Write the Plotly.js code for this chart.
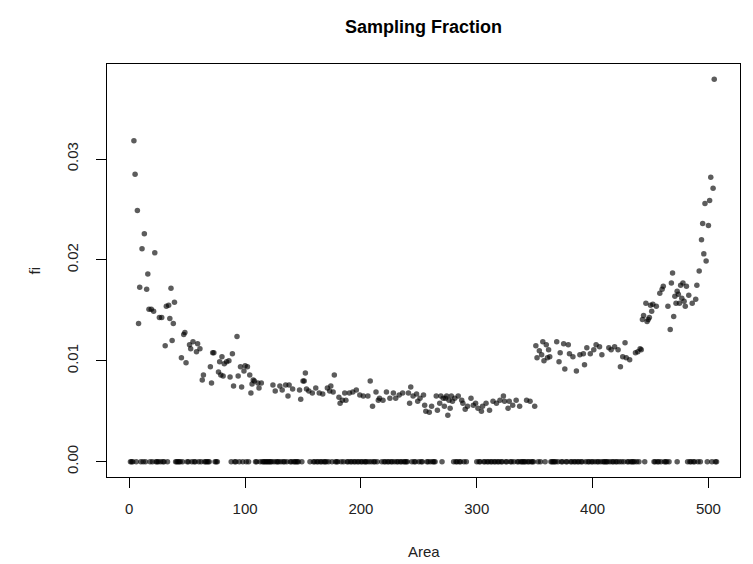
<!DOCTYPE html>
<html>
<head>
<meta charset="utf-8">
<script src="https://cdn.plot.ly/plotly-3.0.1.min.js"></script>
<style>html,body{margin:0;padding:0;background:#fff;}#chart{width:753px;height:564px;}</style>
</head>
<body>
<div id="chart"></div>
<script>
// Sampled areas (non-zero sampling fraction)
const sampledArea = [
4,5,7,13,11,22,16,9,15,36,39,32,34,17,19,21,8,26,28,35,38,48,47,93,37,31,52,55,59,61,58,53,45,49,72,73,80,89,78,82,84,86,70,96,100,102,77,79,81,87,94,64,63,71,99,104,90,97,105,107,106,
108,111,114,112,124,126,130,132,135,138,137,141,147,148,152,150,151,153,155,158,161,164,167,171,173,174,176,177,181,182,184,187,186,190,193,196,199,202,206,208,210,213,216,215,219,222,225,228,230,233,236,243,241,245,242,248,251,254,249,255,256,259,261,265,268,271,272,274,266,275,
269,273,276,278,281,284,287,279,277,288,290,292,295,297,299,301,304,305,308,311,314,317,320,323,324,327,328,331,334,337,343,346,350,
351,354,357,360,362,356,361,363,352,358,369,372,375,379,380,383,371,376,386,393,389,395,392,
398,401,403,406,408,414,416,419,422,428,426,429,432,437,439,442,424,
494,496,498,492,469,468,476,478,481,490,461,460,458,473,474,471,477,483,479,475,472,480,486,489,465,470,467,446,450,452,455,451,449,444,443,447,448,441,
505,502,504,501,497,495,500
];
const sampledFi = [
.0318,.0285,.0249,.0226,.0211,.0207,.0186,.0173,.0171,.0172,.0158,.0154,.0155,.0151,.0151,.0149,.0137,.0143,.0143,.0142,.0137,.0128,.0126,.0124,.0120,.0115,.0116,.0119,.0117,.0112,.0109,.0112,.0103,.0098,.0108,.0108,.0104,.0107,.0099,.0097,.0099,.0100,.0094,.0094,.0095,.0094,.0089,.0086,.0085,.0084,.0085,.0086,.0081,.0078,.0090,.0086,.0075,.0074,.0068,.0081,.0077,
.0080,.0078,.0078,.0073,.0076,.0070,.0075,.0071,.0076,.0076,.0065,.0072,.0071,.0062,.0088,.0080,.0080,.0072,.0070,.0068,.0073,.0068,.0067,.0073,.0070,.0075,.0069,.0086,.0064,.0058,.0061,.0061,.0068,.0068,.0069,.0071,.0066,.0065,.0065,.0080,.0055,.0069,.0063,.0061,.0061,.0069,.0063,.0068,.0063,.0066,.0068,.0074,.0068,.0065,.0058,.0067,.0063,.0066,.0060,.0056,.0050,.0049,.0055,.0065,.0058,.0063,.0055,.0065,.0051,.0046,
.0065,.0063,.0061,.0065,.0063,.0065,.0061,.0060,.0053,.0058,.0052,.0055,.0063,.0056,.0058,.0053,.0050,.0055,.0058,.0051,.0060,.0058,.0061,.0065,.0060,.0053,.0060,.0056,.0061,.0055,.0061,.0060,.0055,
.0115,.0110,.0119,.0116,.0111,.0106,.0103,.0104,.0103,.0100,.0119,.0108,.0117,.0116,.0107,.0104,.0099,.0092,.0090,.0096,.0106,.0113,.0107,
.0107,.0111,.0116,.0114,.0106,.0113,.0111,.0114,.0111,.0118,.0104,.0103,.0101,.0108,.0109,.0111,.0094,
.0220,.0206,.0199,.0189,.0187,.0177,.0175,.0177,.0174,.0175,.0174,.0171,.0167,.0169,.0166,.0164,.0162,.0165,.0159,.0157,.0157,.0154,.0157,.0161,.0154,.0144,.0131,.0157,.0155,.0156,.0154,.0149,.0143,.0145,.0141,.0139,.0141,.0112,
.0379,.0282,.0271,.0259,.0256,.0236,.0234
];
// Non-sampled areas (fi = 0)
const zeroArea = [
1,2,3,6,10,12,14,18,20,23,24,25,27,29,30,33,40,41,42,43,44,46,50,51,54,56,57,60,62,65,66,67,68,69,74,75,76,
88,91,92,95,98,101,103,109,110,113,115,116,117,118,119,120,121,122,123,125,127,128,129,131,133,134,136,139,140,142,143,144,145,146,149,
156,
159,160,162,163,165,166,168,169,170,172,175,178,179,180,183,185,188,189,191,192,194,195,197,198,200,201,203,204,205,207,209,211,212,214,
218,220,221,223,224,226,227,229,231,232,234,235,237,238,239,240,244,246,247,250,252,253,257,258,260,262,263,264,
270,280,282,283,285,286,289,291,
300,302,303,306,307,309,310,312,313,315,316,318,319,321,322,325,326,329,330,332,
335,336,338,339,340,341,342,344,345,347,348,349,353,355,359,
364,365,366,367,368,370,373,374,377,378,381,382,384,385,387,388,390,391,394,396,397,399,400,402,404,405,407,409,410,411,412,413,415,417,418,420,421,423,425,427,430,431,433,434,435,436,438,440,445,453,454,456,457,459,462,463,464,466,
473,
482,484,485,487,488,491,493,499,503,506,507
];
const zeroFi = zeroArea.map(() => 0);

const xTicks = [0, 100, 200, 300, 400, 500];
const yTicks = [0, 0.01, 0.02, 0.03];
const yTickText = ['0.00', '0.01', '0.02', '0.03'];

const allX = sampledArea.concat(zeroArea);
const allY = sampledFi.concat(zeroFi);
const xmin = Math.min(...allX), xmax = Math.max(...allX);
const ymin = Math.min(...allY), ymax = Math.max(...allY);
const xr = [xmin - 0.04 * (xmax - xmin), xmax + 0.04 * (xmax - xmin)];
const yr = [ymin - 0.04 * (ymax - ymin), ymax + 0.04 * (ymax - ymin)];

const FONT = 'Liberation Sans, Arial, sans-serif';
const marker = {size: 5.5, color: 'rgba(0,0,0,0.64)', line: {width: 0}};

const traces = [
  {x: zeroArea, y: zeroFi, type: 'scatter', mode: 'markers', marker: marker, hoverinfo: 'x+y'},
  {x: sampledArea, y: sampledFi, type: 'scatter', mode: 'markers', marker: marker, hoverinfo: 'x+y'}
];

const axisCommon = {
  showgrid: false, zeroline: false, showline: true, mirror: true,
  linecolor: '#000', linewidth: 1, ticks: 'outside', ticklen: 10,
  tickcolor: '#000', tickwidth: 1, tickfont: {family: FONT, size: 15, color: '#222'}
};

const layout = {
  width: 753, height: 564,
  margin: {l: 107, r: 13, t: 64, b: 87, pad: 0},
  paper_bgcolor: '#fff', plot_bgcolor: '#fff',
  showlegend: false,
  font: {family: FONT, color: '#000'},
  title: {text: '<b>Sampling Fraction</b>', x: 0.5, xref: 'paper', xanchor: 'center',
          y: 1 - 27 / 564, yref: 'container', yanchor: 'middle',
          font: {family: FONT, size: 18, color: '#000'}},
  xaxis: Object.assign({}, axisCommon, {range: xr, tickvals: xTicks, ticktext: xTicks.map(String), ticklabelstandoff: 8}),
  yaxis: Object.assign({}, axisCommon, {range: yr, tickvals: yTicks, ticktext: yTickText, tickangle: -90, ticklabelstandoff: 12}),
  annotations: [
    {text: 'Area', xref: 'paper', yref: 'paper', x: 0.5, y: -(552 - 477.5) / 413.5,
     xanchor: 'center', yanchor: 'middle', showarrow: false, font: {family: FONT, size: 15, color: '#222'}},
    {text: 'fi', xref: 'paper', yref: 'paper', x: (34 - 107) / 633, y: 0.5, textangle: -90,
     xanchor: 'center', yanchor: 'middle', showarrow: false, font: {family: FONT, size: 15, color: '#222'}}
  ]
};

Plotly.newPlot('chart', traces, layout, {staticPlot: true, displayModeBar: false});
</script>
</body>
</html>
